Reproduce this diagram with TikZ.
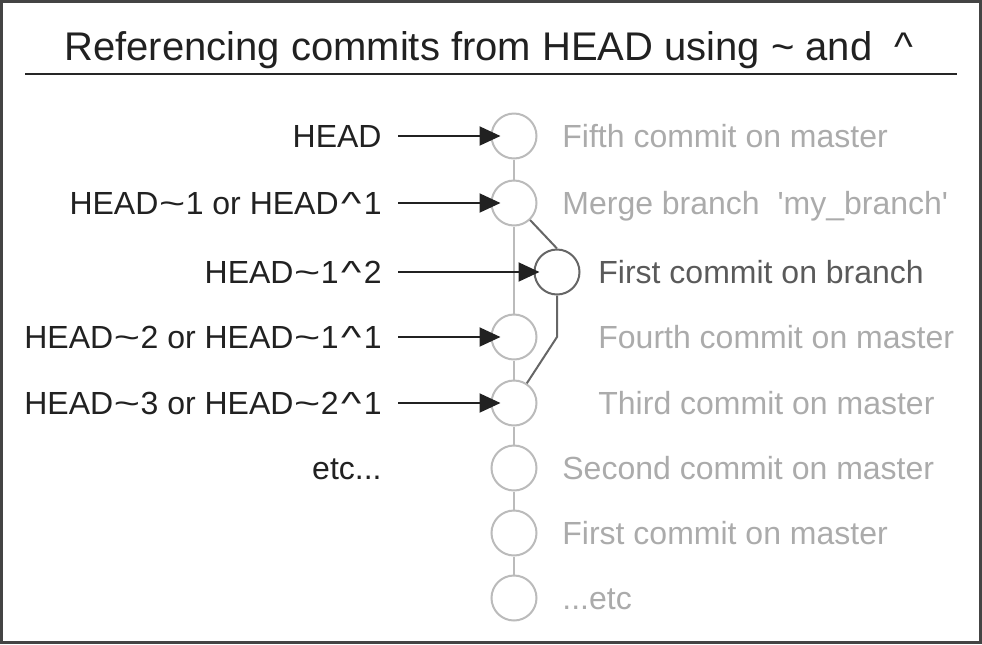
\documentclass[tikz,border=0pt]{standalone}
\usepackage{fontspec}
\setmainfont{Liberation Sans}
\usepackage{graphicx}
\usepackage{tikz}
\usetikzlibrary{arrows.meta}

\definecolor{trunkgray}{HTML}{BBBBBB}
\definecolor{branchgray}{HTML}{666666}
\definecolor{lightlabel}{HTML}{ABABAB}
\definecolor{darklabel}{HTML}{5A5A5A}
\definecolor{framegray}{HTML}{444444}

\newcommand{\tld}{\kern0.3pt\scalebox{1.4}[1]{\textasciitilde}\kern0.3pt}
\newcommand{\crt}{\kern1.2pt\scalebox{1.35}[1]{\textasciicircum}\kern1.2pt}

\begin{document}
\begin{tikzpicture}[x=0.5pt, y=-0.5pt,
    every node/.style={inner sep=0pt, font=\fontsize{16}{19}\selectfont, text height=11.5pt, text depth=0pt},
    commit/.style={circle, draw=trunkgray, fill=white, line width=1pt, minimum size=22.5pt, text height=0pt},
    refname/.style={anchor=east, text=black!87},
    msg/.style={anchor=west, text=lightlabel},
    ref/.style={-{Triangle[length=10.5pt, width=9.5pt]}, line width=1pt, black!87, shorten <=8pt}]
    \useasboundingbox (0,0) rectangle (982,644);

    % ---------------- frame and title ----------------
    \draw[framegray, line width=1.5pt] (1.5,1.5) rectangle (980.5,642.5);
    \node[font=\fontsize{20}{24}\selectfont, text height=14.3pt, text=black!87] (title) at (489,46.5)
        {Referencing commits from HEAD using \textasciitilde{} and \ \textasciicircum};
    \coordinate (ruleL) at (25,74);
    \coordinate (ruleR) at (957,74);
    \draw[black!85, line width=1pt] (ruleL) -- (ruleR);

    % ---------------- commits ----------------
    \node[commit] (fifth)  at (514,136) {};
    \node[commit] (merge)  at (514,203) {};
    \node[commit, draw=branchgray] (branch) at (557,272) {};
    \node[commit] (fourth) at (514,337) {};
    \node[commit] (third)  at (514,403) {};
    \node[commit] (second) at (514,468) {};
    \node[commit] (first)  at (514,533) {};
    \node[commit] (older)  at (514,598) {};

    % trunk
    \foreach \a/\b in {fifth/merge, merge/fourth, fourth/third, third/second, second/first, first/older}
        \draw[trunkgray, line width=1pt] (\a) -- (\b);

    % side branch
    \coordinate (bend) at (557,337);
    \draw[branchgray, line width=1pt] (merge) -- (branch.north);
    \draw[branchgray, line width=1pt] (branch.south) -- (bend) -- (third);

    % ---------------- commit messages ----------------
    \node[msg] (mfifth)  at (562,136) {Fifth commit on master};
    \node[msg] (mmerge)  at (562,203) {Merge branch \ \textquotesingle my\_branch\textquotesingle};
    \node[msg, text=darklabel] (mbranch) at (598,272) {First commit on branch};
    \node[msg] (mfourth) at (598,337) {Fourth commit on master};
    \node[msg] (mthird)  at (598,403) {Third commit on master};
    \node[msg] (msecond) at (562,468) {Second commit on master};
    \node[msg] (mfirst)  at (562,533) {First commit on master};
    \node[msg] (molder)  at (562,598) {...etc};

    % ---------------- references ----------------
    \node[refname] (rhead)   at (382,136) {HEAD};
    \node[refname] (rmerge)  at (382,203) {HEAD\tld 1 or HEAD\crt 1};
    \node[refname] (rbranch) at (382,272) {HEAD\tld 1\crt 2};
    \node[refname] (rfourth) at (382,337) {HEAD\tld 2 or HEAD\tld 1\crt 1};
    \node[refname] (rthird)  at (382,403) {HEAD\tld 3 or HEAD\tld 2\crt 1};
    \node[refname] (retc)    at (382,468) {etc...};

    \draw[ref, shorten >=-5pt] (rhead.east) -- (fifth.west);
    \draw[ref, shorten >=-5pt] (rmerge.east) -- (merge.west);
    \draw[ref, shorten >=-3pt] (rbranch.east) -- (branch.west);
    \draw[ref, shorten >=-5pt] (rfourth.east) -- (fourth.west);
    \draw[ref, shorten >=-5pt] (rthird.east) -- (third.west);
\end{tikzpicture}
\end{document}
